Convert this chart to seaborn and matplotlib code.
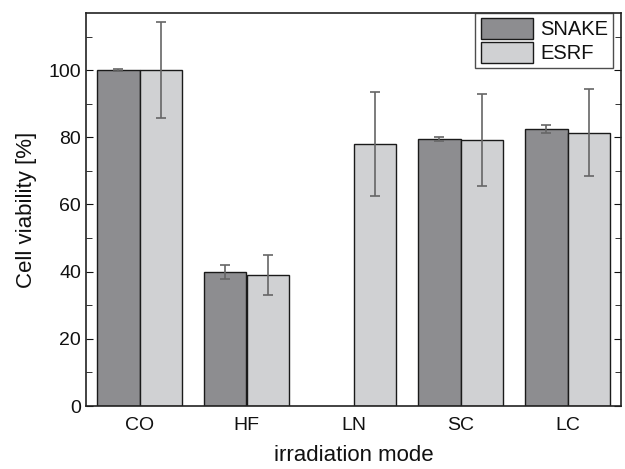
import numpy as np
import pandas as pd
import matplotlib
matplotlib.use("Agg")
import matplotlib.pyplot as plt
import seaborn as sns
from matplotlib.ticker import MultipleLocator

# values
modes = ["CO", "HF", "LN", "SC", "LC"]
snake = [100.0, 39.9, np.nan, 79.4, 82.5]
snake_err = [0.4, 2.1, np.nan, 0.6, 1.1]
esrf = [100.0, 39.0, 77.9, 79.2, 81.4]
esrf_err = [14.3, 6.1, 15.5, 13.6, 13.0]

df = pd.DataFrame({
    "mode": modes * 2,
    "source": ["SNAKE"] * len(modes) + ["ESRF"] * len(modes),
    "viability": snake + esrf,
})

sns.set_style("ticks")
plt.rcParams["font.family"] = ["Liberation Sans", "DejaVu Sans"]
plt.rcParams["text.color"] = "#111111"
plt.rcParams["axes.labelcolor"] = "#111111"
plt.rcParams["xtick.color"] = "#111111"
plt.rcParams["ytick.color"] = "#111111"

fig, ax = plt.subplots(figsize=(6.25, 4.69), dpi=100)
fig.subplots_adjust(left=0.1376, right=0.9936, bottom=0.1343, top=0.9723)

sns.barplot(data=df, x="mode", y="viability", hue="source", order=modes,
            hue_order=["SNAKE", "ESRF"], palette=["#8c8d91", "#d0d1d3"],
            width=0.8, errorbar=None, edgecolor="#1a1a1a", linewidth=1.0, ax=ax)

# error bars, centred on each bar (+-0.2 category units)
pos = np.arange(len(modes))
for off, vals, errs in [(-0.2, snake, snake_err), (0.2, esrf, esrf_err)]:
    ax.errorbar(pos + off, vals, yerr=errs, fmt="none", ecolor="#666666",
                elinewidth=1.2, capsize=3.5, capthick=1.2, zorder=5)

ax.set_xlim(-0.5, len(modes) - 0.5)
ax.set_ylim(0, 117)
ax.yaxis.set_major_locator(MultipleLocator(20))
ax.yaxis.set_minor_locator(MultipleLocator(10))
ax.tick_params(axis="y", which="both", direction="in", right=True, labelsize=14)
ax.tick_params(axis="y", which="major", length=5)
ax.tick_params(axis="y", which="minor", length=4)
ax.tick_params(axis="x", length=0, labelsize=14, pad=8)
for s in ax.spines.values():
    s.set_visible(True)
    s.set_linewidth(1.2)
    s.set_color("#222222")

ax.set_xlabel("irradiation mode", fontsize=16, labelpad=8)
ax.set_ylabel("Cell viability [%]", fontsize=16, labelpad=8)

leg = ax.legend(loc="upper right", bbox_to_anchor=(0.985, 1.0), fontsize=14.5,
                frameon=True, fancybox=False, edgecolor="#222222",
                handlelength=2.6, handleheight=1.25, labelspacing=0.12,
                borderpad=0.25, handletextpad=0.35, borderaxespad=0.0)
leg.get_frame().set_linewidth(1.0)

fig.savefig("out.png", dpi=100)
